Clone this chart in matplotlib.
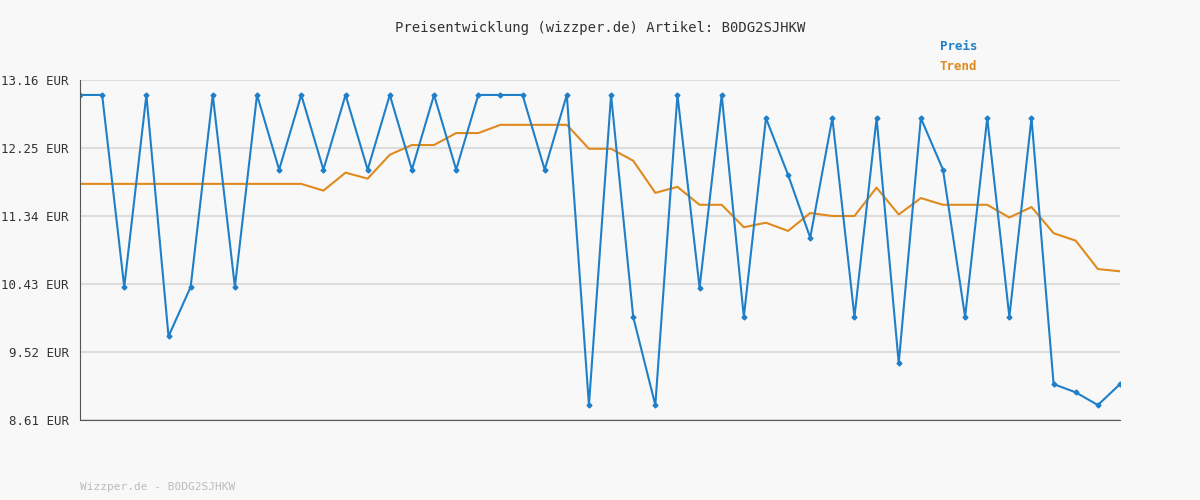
import matplotlib.pyplot as plt
import numpy as np

preis = [12.96, 12.96, 10.39, 12.96, 9.73, 10.39, 12.96, 10.39, 12.96, 11.96,
         12.96, 11.96, 12.96, 11.96, 12.96, 11.96, 12.96, 11.96, 12.96, 12.96,
         12.96, 11.96, 12.96, 8.81, 12.96, 9.99, 8.81, 12.96, 10.38, 12.96,
         9.99, 12.65, 11.89, 11.05, 12.65, 9.99, 12.65, 9.37, 12.65, 11.96,
         9.99, 12.65, 9.99, 12.65, 9.09, 8.98, 8.81, 9.09]
trend = [11.77] * 11 + [11.68, 11.92, 11.84, 12.16, 12.29, 12.29, 12.45, 12.45, 12.56,
         12.56, 12.56, 12.56, 12.24, 12.24, 12.08, 11.65, 11.73, 11.49,
         11.49, 11.19, 11.25, 11.14, 11.38, 11.34, 11.34, 11.72, 11.36, 11.58,
         11.49, 11.49, 11.49, 11.32, 11.46, 11.11, 11.01, 10.63, 10.60]
yticks = [8.61, 9.52, 10.43, 11.34, 12.25, 13.16]

plt.rcParams['font.family'] = 'DejaVu Sans Mono'
bg = '#f8f8f8'
fig = plt.figure(figsize=(12, 5), dpi=100, facecolor=bg)
ax = fig.add_axes([80/1200, 80/500, 1040/1200, 340/500], facecolor=bg)

x = np.arange(len(preis))
ax.plot(x, trend, color='#e08a1e', lw=1.5)
ax.plot(x, preis, color='#1f7fc8', lw=1.5, marker='D', ms=2.5)

ax.set_xlim(0, len(preis) - 1)
ax.set_ylim(8.61, 13.16)
ax.set_yticks(yticks)
ax.set_yticklabels([f'{v:.2f} EUR' for v in yticks], fontsize=9, color='#333333')
ax.set_xticks([])
ax.grid(axis='y', color='#dddddd', lw=1.5)
ax.tick_params(axis='y', length=0, pad=8)
for s in ['top', 'right']:
    ax.spines[s].set_visible(False)
ax.spines['left'].set_color('#555555')
ax.spines['bottom'].set_color('#555555')

fig.text(0.5, 1 - 28/500, 'Preisentwicklung (wizzper.de) Artikel: B0DG2SJHKW',
         ha='center', va='center', fontsize=10, color='#333333')
fig.text(940/1200, 1 - 46/500, 'Preis', color='#1f7fc8', fontsize=9, weight='bold', va='center')
fig.text(940/1200, 1 - 67/500, 'Trend', color='#e08a1e', fontsize=9, weight='bold', va='center')
fig.text(80/1200, 1 - 487/500, 'Wizzper.de - B0DG2SJHKW', color='#bbbbbb', fontsize=8, va='center')

fig.savefig('out.png', dpi=100, facecolor=bg)
